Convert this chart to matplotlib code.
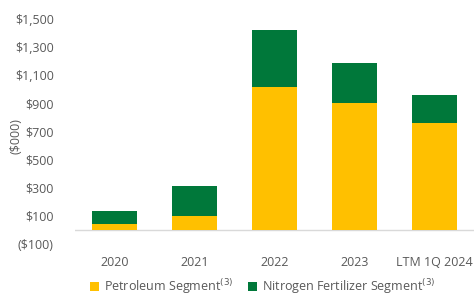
import numpy as np
import matplotlib.pyplot as plt

# values, $000
periods = ["2020", "2021", "2022", "2023", "LTM 1Q 2024"]
petroleum = [43, 100, 1018, 902, 757]
nitrogen = [90, 213, 406, 282, 202]
yticks = [-100, 100, 300, 500, 700, 900, 1100, 1300, 1500]

def money(v):
    return "(${:,})".format(-v) if v < 0 else "${:,}".format(v)

plt.rcParams['font.family'] = ['Open Sans', 'DejaVu Sans']
grey = "#595959"
yellow = "#FFC000"
green = "#00783A"

fig = plt.figure(figsize=(4.74, 3.0), dpi=100)
ax = fig.add_axes([74.5 / 474, 1 - 244 / 300, 400 / 474, 225 / 300])

x = np.arange(len(periods))
ax.bar(x, petroleum, width=0.56, color=yellow, label="Petroleum Segment$^{(3)}$")
ax.bar(x, nitrogen, width=0.56, bottom=petroleum, color=green,
       label="Nitrogen Fertilizer Segment$^{(3)}$")
ax.axhline(0, color="#D9D9D9", lw=1, zorder=0)

ax.set_xlim(-0.5, len(periods) - 0.5)
ax.set_ylim(-100, 1500)
ax.set_yticks(yticks)
ax.set_yticklabels([money(v) for v in yticks])
ax.set_xticks(x)
ax.set_xticklabels(periods)
ax.tick_params(axis="y", length=0, pad=15, labelsize=9, labelcolor=grey)
ax.tick_params(axis="x", length=0, pad=9, labelsize=9, labelcolor=grey)
for s in ax.spines.values():
    s.set_visible(False)

ax.set_ylabel("($000)", fontsize=9, color=grey)
ax.yaxis.set_label_coords(-0.13, 0.48)

ax.legend(loc="center", bbox_to_anchor=(0.47, -0.19), ncol=2, frameon=False,
          fontsize=9, labelcolor=grey, handlelength=0.7, handleheight=0.7,
          handletextpad=0.4, columnspacing=1.2)

fig.savefig("out.png", dpi=100)
